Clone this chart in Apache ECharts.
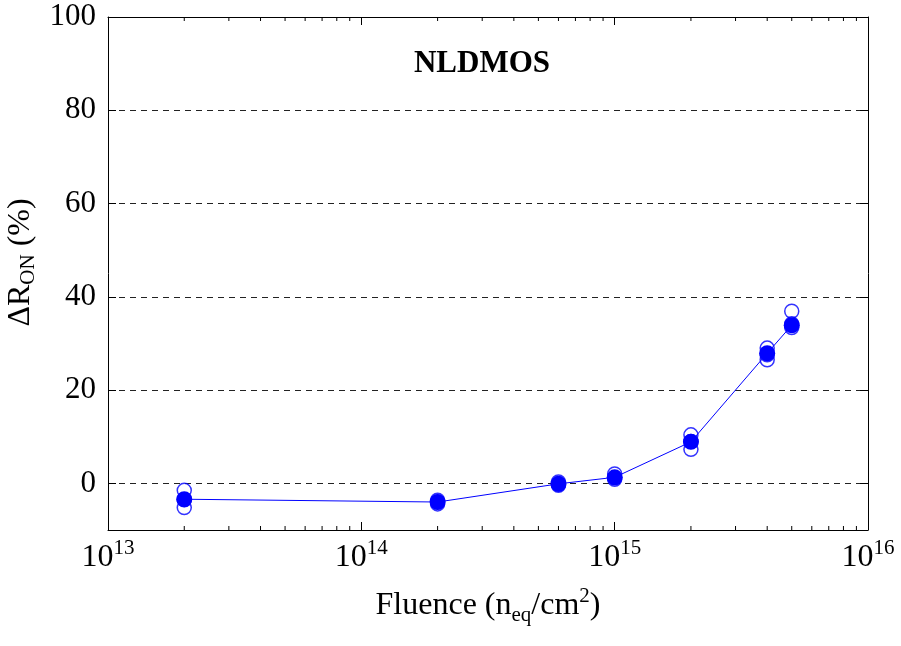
<!DOCTYPE html>
<html>
<head>
<meta charset="utf-8">
<script src="https://cdn.jsdelivr.net/npm/echarts@6/dist/echarts.min.js"></script>
<style>
  html, body { margin: 0; padding: 0; background: #fff; }
  #chart { width: 901px; height: 646px; }
</style>
</head>
<body>
<div id="chart"></div>
<script>
// fluence points (n_eq/cm^2)
var fluence = [2e13, 2e14, 6e14, 1e15, 2e15, 4e15, 5e15];
// mean change of R_ON (%)
var meanDelta = [-3.4, -4.0, -0.1, 1.3, 8.9, 27.9, 33.9];
// individual devices (%), one row per fluence
var deviceDelta = [
  [-1.5, -3.5, -5.2],
  [-3.6, -4.0, -4.4],
  [0.3, -0.2, -0.4],
  [2.0, 1.2, 0.9],
  [10.4, 9.0, 7.3],
  [29.0, 27.6, 26.5],
  [36.9, 34.2, 33.4]
];
var minorTicks = [2e13, 3e13, 4e13, 5e13, 6e13, 7e13, 8e13, 9e13,
  2e14, 3e14, 4e14, 5e14, 6e14, 7e14, 8e14, 9e14,
  2e15, 3e15, 4e15, 5e15, 6e15, 7e15, 8e15, 9e15];
var yRange = [-10, 100];
var xRange = [1e13, 1e16];

var chart = echarts.init(document.getElementById('chart'));
var font = '"Liberation Serif", "Times New Roman", serif';
var blue = '#0000ff';

var devicePoints = [];
fluence.forEach(function (f, i) {
  deviceDelta[i].forEach(function (v) { devicePoints.push([f, v]); });
});
var meanPoints = fluence.map(function (f, i) { return [f, meanDelta[i]]; });

var option = {
  animation: false,
  title: {
    text: 'NLDMOS',
    left: 477, top: 43, textAlign: 'center',
    textStyle: { fontFamily: font, fontSize: 31, fontWeight: 'bold', color: '#000' }
  },
  grid: { left: 108, right: 33, top: 17, bottom: 116, outerBoundsMode: 'none', containLabel: false },
  xAxis: [{
    type: 'log', min: xRange[0], max: xRange[1], logBase: 10,
    axisLine: { onZero: false, lineStyle: { color: '#000', width: 1 } },
    axisTick: { inside: true, length: 8, lineStyle: { color: '#000' } },
    splitLine: { show: false },
    axisLabel: {
      margin: 8,
      formatter: function (v) {
        return '{b|10}{s|' + Math.round(Math.log10(v)) + '}';
      },
      rich: {
        b: { fontFamily: font, fontSize: 32, lineHeight: 40, color: '#000' },
        s: { fontFamily: font, fontSize: 21, lineHeight: 18, verticalAlign: 'top', color: '#000' }
      }
    },
    name: 'Fluence (n{sub|eq}/cm{sup|2})',
    nameLocation: 'middle', nameGap: 56,
    nameTextStyle: {
      fontFamily: font, fontSize: 32, lineHeight: 40, color: '#000',
      rich: {
        sub: { fontFamily: font, fontSize: 21, lineHeight: 16, verticalAlign: 'bottom', color: '#000' },
        sup: { fontFamily: font, fontSize: 21, lineHeight: 18, verticalAlign: 'top', color: '#000' }
      }
    }
  }, {
    type: 'log', min: xRange[0], max: xRange[1], position: 'top',
    axisLine: { onZero: false, lineStyle: { color: '#000', width: 1 } },
    axisTick: { inside: true, length: 8, lineStyle: { color: '#000' } },
    axisLabel: { show: false },
    splitLine: { show: false }
  }],
  yAxis: [{
    type: 'value', min: yRange[0], max: yRange[1], splitNumber: 5,
    axisLine: { show: true, onZero: false, lineStyle: { color: '#000', width: 1 } },
    axisTick: { show: true, inside: true, length: 8, lineStyle: { color: '#000' } },
    axisLabel: {
      showMinLabel: false, margin: 12,
      fontFamily: font, fontSize: 31, color: '#000'
    },
    splitLine: { show: true, lineStyle: { color: '#222', type: [6, 5], width: 1 } },
    name: '\u0394R{sub|ON} (%)',
    nameLocation: 'middle', nameGap: 60, nameRotate: 90,
    nameTextStyle: {
      fontFamily: font, fontSize: 32, lineHeight: 36, color: '#000',
      padding: [0, 0, 0, 22],
      rich: {
        sub: { fontFamily: font, fontSize: 21, lineHeight: 20, verticalAlign: 'bottom', color: '#000' }
      }
    }
  }, {
    type: 'value', min: yRange[0], max: yRange[1], splitNumber: 5, position: 'right',
    axisLine: { show: true, onZero: false, lineStyle: { color: '#000', width: 1 } },
    axisTick: { show: true, inside: true, length: 8, lineStyle: { color: '#000' } },
    axisLabel: { show: false },
    splitLine: { show: false }
  }],
  series: [{
    type: 'custom',
    xAxisIndex: 0, yAxisIndex: 0,
    silent: true,
    data: minorTicks.map(function (t) { return [t]; }),
    encode: { x: 0 },
    renderItem: function (params, api) {
      var bottom = api.coord([api.value(0), yRange[0]]);
      var top = api.coord([api.value(0), yRange[1]]);
      var st = { stroke: '#000', lineWidth: 1 };
      return {
        type: 'group',
        children: [
          { type: 'line', shape: { x1: bottom[0], y1: bottom[1], x2: bottom[0], y2: bottom[1] - 4 }, style: st },
          { type: 'line', shape: { x1: top[0], y1: top[1], x2: top[0], y2: top[1] + 4 }, style: st }
        ]
      };
    }
  }, {
    name: 'devices',
    type: 'scatter',
    data: devicePoints,
    symbol: 'circle', symbolSize: 14,
    itemStyle: { color: 'transparent', borderColor: blue, borderWidth: 1.5 }
  }, {
    name: 'mean',
    type: 'line',
    data: meanPoints,
    symbol: 'circle', symbolSize: 16,
    showSymbol: true,
    lineStyle: { color: blue, width: 1 },
    itemStyle: { color: blue, borderColor: blue, borderWidth: 0 },
    z: 3
  }]
};

chart.setOption(option);
</script>
</body>
</html>
